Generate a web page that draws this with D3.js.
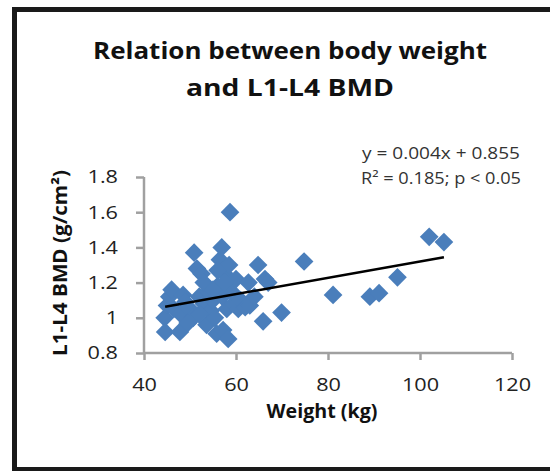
<!DOCTYPE html>
<html><head><meta charset="utf-8">
<script src="https://cdn.jsdelivr.net/npm/d3@7"></script>
<style>body{margin:0;background:#fff}svg{display:block}</style>
</head><body>
<svg id="c" width="550" height="471"></svg>
<script>
const weights = [44.5,44.6,45.0,45.5,46.0,46.5,47.8,48.0,48.5,49.0,50.0,50.7,50.9,51.5,52.0,52.5,53.0,53.6,54.0,54.5,55.0,55.4,55.8,56.0,56.5,56.9,57.0,57.2,57.5,58.0,58.3,58.5,58.7,59.0,59.5,60.0,60.5,61.0,62.0,62.7,63.0,64.0,64.8,65.9,66.3,67.0,69.9,74.8,81.1,89.1,91.1,95.1,102.0,105.2,53.0,55.0,56.0,57.5,52.0,49.5];
const bmd     = [1.00,0.92,1.07,1.12,1.16,1.05,0.92,1.02,1.13,1.09,1.05,1.00,1.37,1.28,1.12,1.25,1.08,0.96,1.15,1.04,1.10,1.00,0.91,1.18,1.33,1.40,1.12,0.93,1.25,1.05,0.88,1.30,1.60,1.15,1.08,1.22,1.05,1.10,1.06,1.20,1.07,1.12,1.30,0.98,1.22,1.20,1.03,1.32,1.13,1.12,1.14,1.23,1.46,1.43,1.20,1.16,1.27,1.20,1.02,0.97];
const trendX = [44.6, 105.2];
const trendY = [1.063, 1.344];
const xTicks = [40,60,80,100,120];
const yTicks = [0.8,1,1.2,1.4,1.6,1.8];
const titleLines = ["Relation between body weight","and L1-L4 BMD"];
const eqLines = ["y = 0.004x + 0.855","R² = 0.185; p < 0.05"];

const svg = d3.select("#c");
const font = "'Open Sans', 'Liberation Sans', sans-serif";
function widen(sel, f){ sel.each(function(){ const L=this.getComputedTextLength(); d3.select(this).attr("textLength",L*f).attr("lengthAdjust","spacingAndGlyphs"); }); }
function fit(sel, widths){ sel.each(function(d,i){ d3.select(this).attr("textLength",widths[i]).attr("lengthAdjust","spacingAndGlyphs"); }); }

// border
svg.append("path").attr("d","M550,469.5 H14.5 V9.5 H550").attr("fill","none").attr("stroke","#1a1a1a").attr("stroke-width",5);

const x = d3.scaleLinear().domain([40,120]).range([144,512]);
const y = d3.scaleLinear().domain([0.8,1.8]).range([353,177]);

const axisColor = "#a0a0a0";
const gx = svg.append("g").attr("transform","translate(0,353)")
  .call(d3.axisBottom(x).tickValues(xTicks).tickSize(7).tickPadding(18).tickFormat(d3.format("d")));
const gy = svg.append("g").attr("transform","translate(144,0)")
  .call(d3.axisLeft(y).tickValues(yTicks).tickSize(8).tickPadding(18).tickFormat(d=>d===1?"1":d3.format(".1f")(d)));
[gx,gy].forEach(g=>{
  g.select(".domain").attr("stroke",axisColor).attr("stroke-width",2.5);
  g.selectAll(".tick line").attr("stroke",axisColor).attr("stroke-width",2.5);
  g.selectAll(".tick text").attr("fill","#222").attr("font-family",font).attr("font-size",18.5);
  widen(g.selectAll(".tick text"), 1.17);
});
gx.select(".domain").attr("d","M144,0H512");
gy.select(".domain").attr("d","M0,177V353");

const pts = weights.map((w,i)=>({w,b:bmd[i]}));
const sym = d3.symbol().type(d3.symbolSquare).size(175);
svg.append("g").selectAll("path").data(pts).join("path")
  .attr("d",sym)
  .attr("transform",d=>`translate(${x(d.w)},${y(d.b)}) rotate(45)`)
  .attr("fill","#4a7ebb");

svg.append("line")
  .attr("x1",x(trendX[0])).attr("y1",y(trendY[0]))
  .attr("x2",x(trendX[1])).attr("y2",y(trendY[1]))
  .attr("stroke","#000").attr("stroke-width",2.5);

const tl = svg.append("g").selectAll("text").data(titleLines).join("text")
  .attr("x",290).attr("y",(d,i)=>59+i*37)
  .attr("text-anchor","middle").attr("font-family",font).attr("font-weight","bold")
  .attr("font-size",23.5).attr("fill","#111").text(d=>d);
fit(tl, [394, 208]);

const eq = svg.append("g").selectAll("text").data(eqLines).join("text")
  .attr("x",441).attr("y",(d,i)=>159+i*25)
  .attr("text-anchor","middle").attr("font-family",font)
  .attr("font-size",16).attr("fill","#333").text(d=>d);
fit(eq, [158, 160]);

const xt = svg.append("text").attr("x",322).attr("y",418).attr("text-anchor","middle")
  .attr("font-family",font).attr("font-weight","bold").attr("font-size",19).attr("fill","#111").text("Weight (kg)");
fit(xt, [111]);
const yt = svg.append("text").attr("transform","translate(67,263) rotate(-90)").attr("text-anchor","middle")
  .attr("font-family",font).attr("font-weight","bold").attr("font-size",19).attr("fill","#111").text("L1-L4 BMD (g/cm²)");
fit(yt, [186]);
</script>
</body></html>
